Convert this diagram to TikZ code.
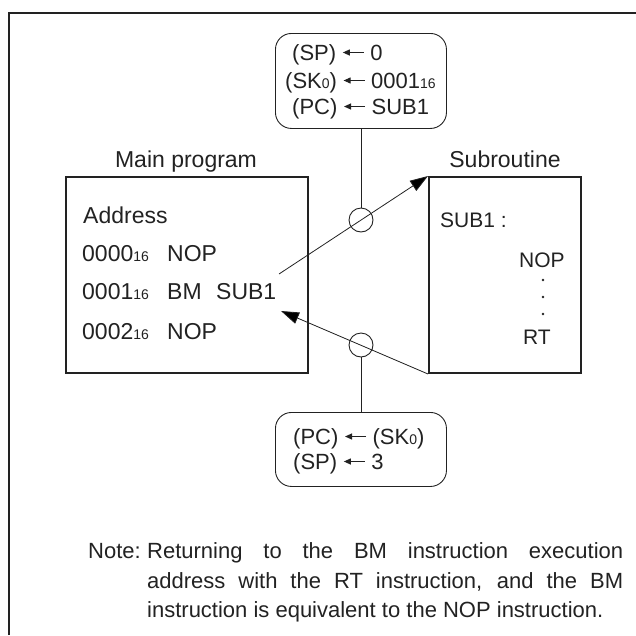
\documentclass[tikz,border=0pt]{standalone}
\usepackage{fontspec}
\setmainfont{Liberation Sans}
\usetikzlibrary{arrows.meta}
\definecolor{ink}{HTML}{222222}
\newcommand\smallnum[1]{{\fontsize{14}{14}\selectfont #1}}
\newcommand\la{\tikz[baseline=0pt,x=1pt,y=1pt]\draw[ink,line width=1pt,-{Triangle[length=7pt,width=6pt]}] (21,7.5) -- (0,7.5);}
\begin{document}
\begin{tikzpicture}[x=1pt,y=-1pt,
  txt/.style={inner sep=0pt, anchor=base west, text=ink, font=\fontsize{23}{27}\selectfont},
  subtxt/.style={inner sep=0pt, anchor=base west, text=ink, font=\fontsize{21}{25}\selectfont},
  regtxt/.style={inner sep=0pt, anchor=base west, text=ink, font=\fontsize{22}{26}\selectfont},
  notetxt/.style={inner sep=0pt, anchor=base west, text=ink, font=\fontsize{22}{26}\selectfont},
  progbox/.style={draw=ink, line width=2pt, inner sep=0pt, anchor=north west},
  regbox/.style={draw=ink, line width=0.9pt, rounded corners=16pt, inner sep=0pt, anchor=north west},
  ring/.style={draw=ink, line width=0.9pt, circle, minimum size=24pt, inner sep=0pt},
  dot/.style={fill=ink, circle, minimum size=2.6pt, inner sep=0pt},
  thin/.style={draw=ink, line width=0.8pt},
  flow/.style={thin, -{Triangle[length=18pt,width=12pt]}}
]
\useasboundingbox (0,0) rectangle (636,635);
% frame
\coordinate (fbl) at (9,635);
\coordinate (ftl) at (9,13);
\coordinate (ftr) at (636,13);
\draw[ink, line width=2.5pt] (fbl) -- (ftl) -- (ftr);

% boxes
\node[progbox, minimum width=242pt, minimum height=196pt] (main) at (65,176) {};
\node[progbox, minimum width=152pt, minimum height=196pt] (sub) at (428,176) {};
\node[regbox, minimum width=171pt, minimum height=95pt] (top) at (275,33) {};
\node[regbox, minimum width=171pt, minimum height=74pt] (bot) at (275,412) {};

% labels
\node[txt, anchor=base] (lmain) at (186,167) {Main program};
\node[txt, anchor=base] (lsub) at (505,167) {Subroutine};

% main program text
\node[txt] (addr) at (83,223) {Address};
\node[txt] (a0) at (82,261) {0000\smallnum{16}};
\node[txt] (i0) at (167,261) {NOP};
\node[txt] (a1) at (82,299) {0001\smallnum{16}};
\node[txt] (i1) at (167,299) {BM};
\node[txt] (o1) at (216,299) {SUB1};
\node[txt] (a2) at (82,339) {0002\smallnum{16}};
\node[txt] (i2) at (167,339) {NOP};

% subroutine text
\node[subtxt] (s0) at (440,227) {SUB1 :};
\node[subtxt] (s1) at (519,267) {NOP};
\node[dot] (d1) at (543,280) {};
\node[dot] (d2) at (543,297) {};
\node[dot] (d3) at (543,314) {};
\node[subtxt] (s2) at (523,344) {RT};

% register boxes text
\node[regtxt] (r1) at (292,60) {(SP) \la\ 0};
\node[regtxt] (r2) at (285,88) {(SK\smallnum{0}) \la\ 0001\smallnum{16}};
\node[regtxt] (r3) at (292,114) {(PC) \la\ SUB1};
\node[regtxt] (r4) at (293,444) {(PC) \la\ (SK\smallnum{0})};
\node[regtxt] (r5) at (293,469) {(SP) \la\ 3};

% circles and connectors
\node[ring] (c1) at (361,220) {};
\node[ring] (c2) at (361,345) {};
\draw[thin] (top.south -| c1) -- (c1.north);
\draw[thin] (c2.south) -- (bot.north -| c2);

\coordinate (callfrom) at (279,274);
\coordinate (retto) at (281,311);
\draw[flow] (callfrom) -- (sub.north west);
\draw[flow] (sub.south west) -- (retto);

% note
\node[notetxt, anchor=base east] (nlab) at (141,558) {Note:};
\node[notetxt] (n1) at (147,558) {\makebox[476pt][s]{Returning to the BM instruction execution}};
\node[notetxt] (n2) at (147,588) {\makebox[476pt][s]{address with the RT instruction, and the BM}};
\node[notetxt] (n3) at (147,617) {instruction is equivalent to the NOP instruction.};
\end{tikzpicture}
\end{document}
